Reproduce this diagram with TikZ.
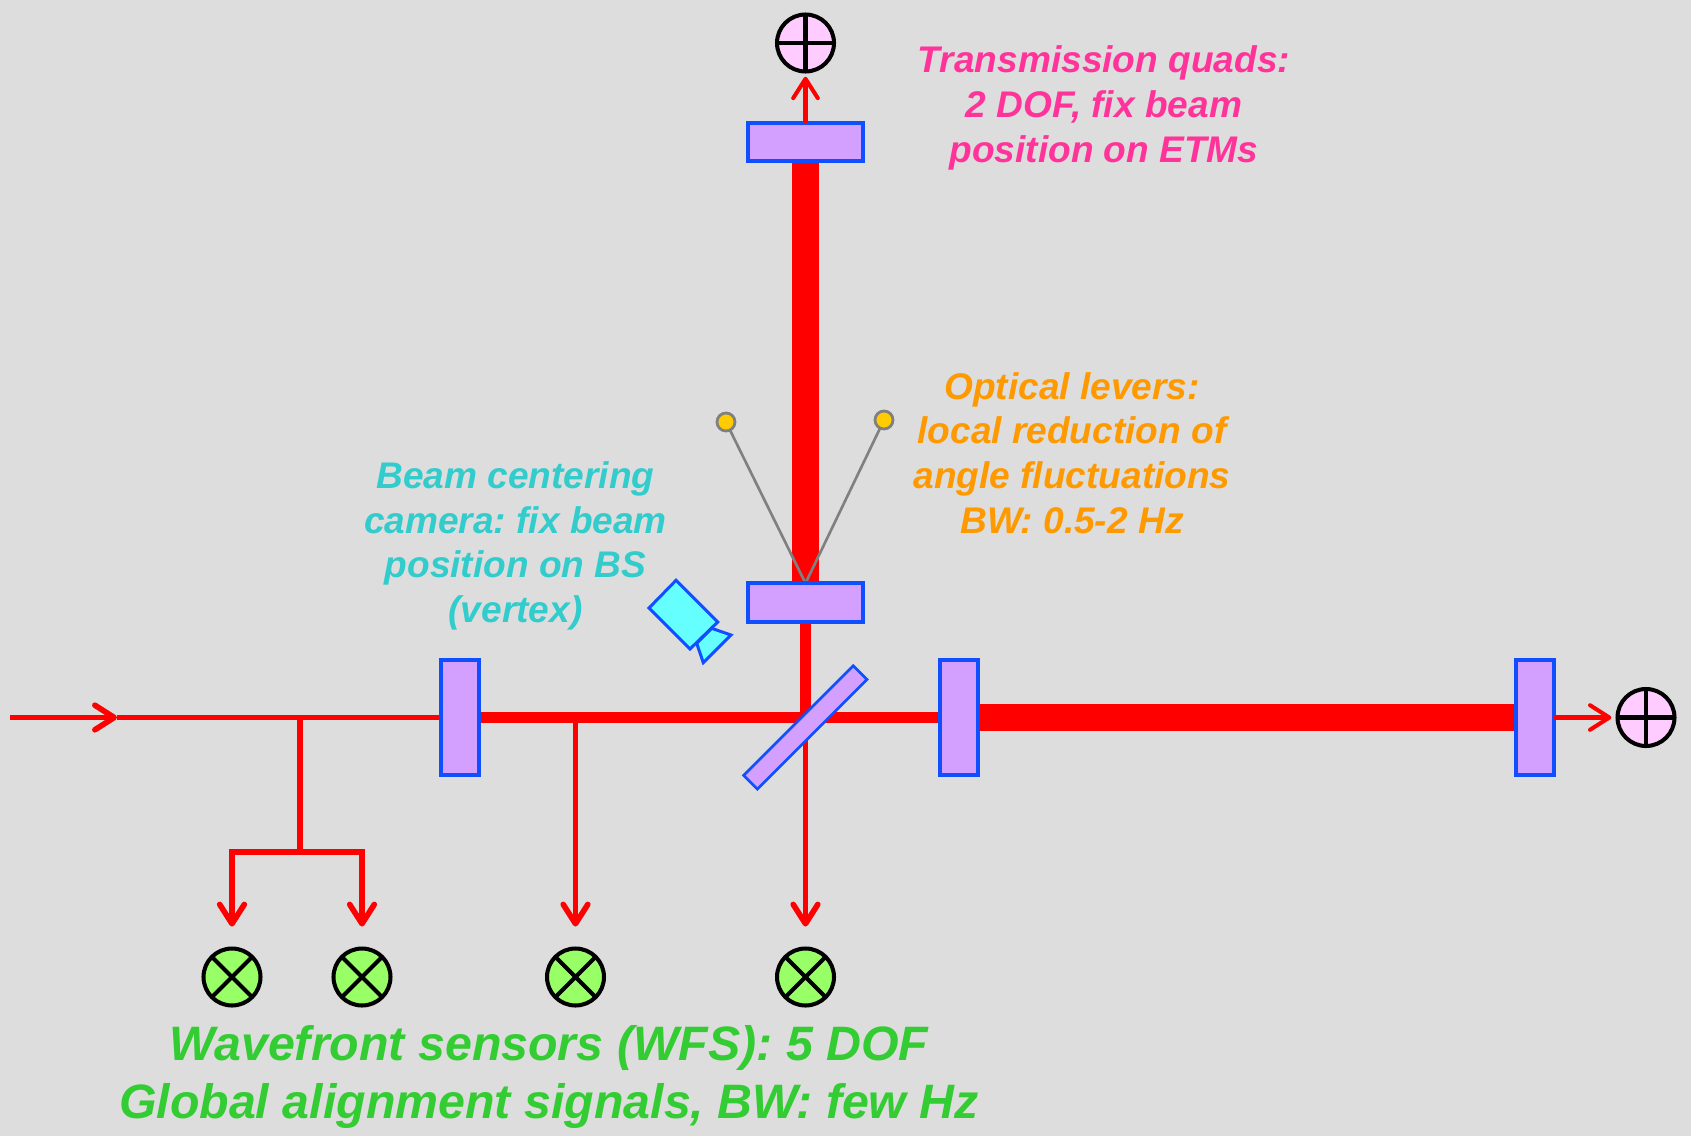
\documentclass[tikz,border=0pt]{standalone}
\usepackage{fontspec}
\setmainfont{Liberation Sans}
\usepackage{xcolor}
\usetikzlibrary{arrows.meta, positioning, backgrounds}
\definecolor{bggray}{RGB}{221, 221, 221}
\definecolor{mirrorblue}{RGB}{15, 79, 255}
\definecolor{mirrorfill}{RGB}{212, 160, 255}
\definecolor{camerafill}{RGB}{102, 255, 255}
\definecolor{quadpink}{RGB}{255, 204, 255}
\definecolor{wfsgreen}{RGB}{153, 255, 102}
\definecolor{labelpink}{RGB}{255, 51, 153}
\definecolor{labelorange}{RGB}{255, 153, 0}
\definecolor{labelcyan}{RGB}{51, 204, 204}
\definecolor{labelgreen}{RGB}{51, 204, 51}
\definecolor{levergold}{RGB}{255, 204, 0}

\begin{document}
\frenchspacing
\begin{tikzpicture}[
    x=0.02cm, y=-0.02cm,
    mirrorh/.style={rectangle, draw=mirrorblue, fill=mirrorfill, line width=2.4pt, outer sep=0pt, inner sep=0pt, minimum width=2.29cm, minimum height=0.77cm},
    mirrorv/.style={rectangle, draw=mirrorblue, fill=mirrorfill, line width=2.4pt, outer sep=0pt, inner sep=0pt, minimum width=0.77cm, minimum height=2.29cm},
    splitter/.style={rectangle, draw=mirrorblue, fill=mirrorfill, line width=1.5pt, outer sep=0pt, inner sep=0pt, minimum width=3.1cm, minimum height=0.39cm, rotate=45},
    quad/.style={circle, draw=black, fill=quadpink, line width=2.3pt, outer sep=0pt, inner sep=0pt, minimum size=1.14cm,
        path picture={\draw[line width=2.3pt] (path picture bounding box.west) -- (path picture bounding box.east) (path picture bounding box.north) -- (path picture bounding box.south);}},
    wfs/.style={circle, draw=black, fill=wfsgreen, line width=2.3pt, outer sep=0pt, inner sep=0pt, minimum size=1.14cm,
        path picture={\draw[line width=2.3pt] (path picture bounding box.north west) -- (path picture bounding box.south east) (path picture bounding box.north east) -- (path picture bounding box.south west);}},
    lever/.style={circle, draw=gray, fill=levergold, line width=1.6pt, outer sep=0pt, inner sep=0pt, minimum size=0.36cm},
    beamthick/.style={red, line width=15.1pt},
    beammid/.style={red, line width=6.8pt},
    beamthin/.style={red, line width=3.2pt},
    barb/.style={-{Straight Barb[round, length=11pt, width=14pt]}, red, line width=#1},
    leverline/.style={draw=gray, line width=1.5pt},
    label/.style={align=center, font=\bfseries\itshape\fontsize{21.1}{25.4}\selectfont, inner sep=0pt}
]
\useasboundingbox (0,0) rectangle (1691,1136);

% Mirrors and splitter
\node[mirrorh] (etmy) at (805.5,142) {};
\node[mirrorh] (itmy) at (805.5,602.5) {};
\node[mirrorv] (prm) at (460,717.5) {};
\node[mirrorv] (itmx) at (959,717.5) {};
\node[mirrorv] (etmx) at (1535,717.5) {};
\node[splitter] (bs) at (805.3,727.4) {};

% Sensors
\node[quad] (quady) at (805.5,43) {};
\node[quad] (quadx) at (1646,717.5) {};
\node[wfs] (wfsa) at (232,977) {};
\node[wfs] (wfsb) at (362,977) {};
\node[wfs] (wfsc) at (575.5,977) {};
\node[wfs] (wfsd) at (805.5,977) {};

% Optical levers
\node[lever] (levera) at (726,422) {};
\node[lever] (leverb) at (884,420) {};

% Camera
\draw[draw=mirrorblue, fill=camerafill, line width=1.7pt] (711.7,628.3) -- (731,635) -- (703.3,662.7) -- (696.7,643.3) -- cycle;
\draw[draw=mirrorblue, fill=camerafill, line width=1.7pt] (676,580.3) -- (717.7,622) -- (690,649) -- (649,608) -- cycle;

% Free ends and junctions
\coordinate (input) at (10,717.5);
\coordinate (inmark) at (117,717.5);
\coordinate (pickoffa) at (300,717.5);
\coordinate (branch) at (300,852);
\coordinate (pickoffb) at (575.5,717.5);
\coordinate (split) at (805.5,717.5);

\begin{scope}[on background layer]
\fill[bggray] (0,0) rectangle (1691,1136);

% Beams
\draw[beamthick] (itmx) -- (etmx);
\draw[beamthick] (itmy) -- (etmy);
\draw[beammid] (prm) -- (itmx);
\draw[beammid] (itmy) -- (split);
\draw[beamthin] (inmark) -- (prm);
\draw[barb=3.2pt] (input) -- (inmark);

% Levers
\draw[leverline] (levera) -- (itmy.north);
\draw[leverline] (leverb) -- (itmy.north);
\end{scope}

% Pick-off arrows
\draw[red, line width=3.2pt] (pickoffa) -- (branch);
\draw[barb=3.2pt, shorten >=12.5pt] (branch) -| (wfsa);
\draw[barb=3.2pt, shorten >=12.5pt] (branch) -| (wfsb);
\begin{scope}[on background layer]
\draw[barb=3.2pt, shorten >=12.5pt] (pickoffb) -- (wfsc);
\draw[barb=3.2pt, shorten >=12.5pt] (split) -- (wfsd);
\end{scope}

% Transmission arrows
\draw[barb=2.3pt, shorten >=3pt] (etmy) -- (quady);
\draw[barb=2.3pt, shorten >=3.5pt] (etmx) -- (quadx);

% Labels
\node[label, color=labelpink] (transtext) at (1104,108) {Transmission quads:\\2 DOF, fix beam\\position on ETMs};
\node[label, color=labelorange] (levertext) at (1072,453) {Optical levers:\\local reduction of\\angle fluctuations\\BW: 0.5-2 Hz};
\node[label, color=labelcyan] (cameratext) at (515.5,546) {Beam centering\\camera: fix beam\\position on BS\\(vertex)};
\node[label, color=labelgreen, font=\bfseries\itshape\fontsize{27.5}{32.9}\selectfont] (wfstext) at (549,1077) {Wavefront sensors (WFS): 5 DOF\\Global alignment signals, BW: few Hz};

\end{tikzpicture}
\end{document}
